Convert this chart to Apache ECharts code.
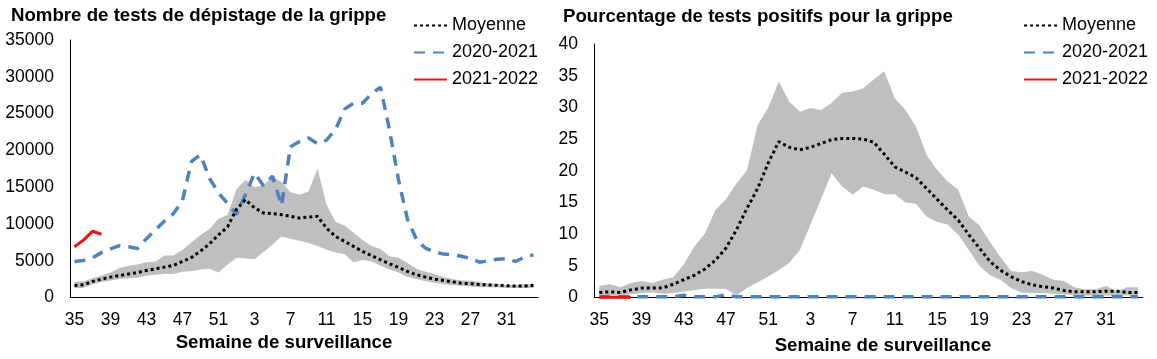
<!DOCTYPE html>
<html><head><meta charset="utf-8">
<script src="https://cdn.jsdelivr.net/npm/echarts@6/dist/echarts.min.js"></script>
<style>html,body{margin:0;padding:0;background:#fff}#c{width:1157px;height:359px}</style>
</head><body><div id="c"></div>
<script>
var weeks = [35,36,37,38,39,40,41,42,43,44,45,46,47,48,49,50,51,52,1,2,3,4,5,6,7,8,9,10,11,12,13,14,15,16,17,18,19,20,21,22,23,24,25,26,27,28,29,30,31,32,33,34].map(String);

// Nombre de tests
var testsMean = [1630,1720,2180,2500,2770,3000,3180,3400,3680,3900,4130,4360,4900,5450,6300,7300,8500,9600,12000,13300,12200,11490,11400,11260,11030,10800,10940,11030,9440,8300,7630,6950,6270,5680,5130,4590,4090,3540,3090,2770,2500,2320,2130,1950,1860,1770,1700,1650,1600,1560,1560,1650];
var testsMin = [1300,1300,1800,2100,2300,2500,2600,2700,3000,3100,3200,3200,3500,3600,3800,3900,3400,4500,5400,5300,5200,6200,7200,8300,8000,7700,7400,7000,6500,6100,5900,4800,5100,4900,4300,3800,3400,2800,2500,2200,2000,1800,1700,1600,1500,1400,1400,1400,1300,1300,1300,1300];
var testsMax = [2100,2200,2600,3000,3400,4000,4300,4500,4800,4900,5700,5700,6500,7500,8500,9300,10700,11200,14700,16000,15000,15300,16400,15700,14300,14000,14400,17500,12600,10300,9800,8800,7800,7000,6600,5600,5400,4700,3900,3500,3200,2800,2500,2300,2300,2100,1900,1800,1700,1700,1800,1800];
var tests2020 = [4900,5040,5400,6100,6600,7050,6900,6650,8000,9200,10400,11400,13200,18500,19400,16200,14200,12800,11300,14000,16900,15200,16500,12500,20500,21200,21700,20900,21400,22800,25600,26400,26400,27700,28600,22800,16000,10600,7900,6700,6200,5900,5800,5600,5300,4800,5000,5200,5300,4900,5500,5800];
var tests2021 = [6900,7800,9000,8600];

// Pourcentage positifs
var pctMean = [0.8,0.9,0.8,1.2,1.5,1.5,1.5,2.1,2.8,3.5,4.5,5.9,7.8,10.7,14.1,17.2,21.2,24.6,23.7,23.3,23.7,24.3,24.9,25.1,25.1,25.0,24.5,22.6,20.6,19.8,18.9,17.2,15.5,13.8,12.2,9.9,7.8,5.7,4.3,3.3,2.5,2.0,1.7,1.5,1.1,0.9,0.9,0.9,1.0,1.0,0.8,0.8];
var pctMin = [0.4,0.4,0.3,0.5,0.7,0.8,0.6,0.7,0.9,1.2,1.4,1.4,1.4,0.3,1.5,2.4,3.3,4.3,5.5,7.5,11.5,15.5,19.6,17.5,16.2,17.5,17.0,16.3,16.3,15.0,14.8,12.8,11.9,11.5,9.9,7.5,5.0,3.5,2.8,1.5,0.8,0.7,0.7,0.6,0.5,0.3,0.3,0.3,0.3,0.3,0.3,0.3];
var pctMax = [1.8,2.1,1.6,2.3,2.6,2.3,2.8,3.2,5.2,8.0,10.1,13.8,15.5,18.0,20.1,27.2,29.9,34.1,30.9,29.3,29.9,29.6,30.7,32.3,32.5,33.0,34.4,35.7,31.4,29.6,27.0,22.5,20.1,18.3,17.0,12.8,11.4,8.8,6.4,4.2,4.0,4.2,3.6,2.8,2.6,1.6,1.3,1.3,1.8,1.0,1.6,1.6];
var pct2020 = [0.1,0.1,0.1,0.1,0.1,0.1,0.1,0.1,0.35,0.1,0.1,0.1,0.45,0.1,0.1,0.1,0.1,0.1,0.1,0.1,0.1,0.1,0.1,0.1,0.1,0.1,0.1,0.1,0.1,0.1,0.1,0.1,0.1,0.1,0.1,0.1,0.1,0.1,0.1,0.1,0.1,0.1,0.1,0.1,0.1,0.1,0.1,0.1,0.1,0.1,0.1,0.1];
var pct2021 = [0.05,0.05,0.05,0.05];

var FONT = "'Liberation Sans', Arial, sans-serif";
var GRAY = '#BFBFBF', BLUE = '#4F81BD', RED = '#EE1111';

function diff(a, b) { return a.map(function (v, i) { return +(v - b[i]).toFixed(2); }); }

function panelSeries(idx, mean, mn, mx, s2020, s2021) {
  var st = 'band' + idx;
  return [
    { type: 'line', xAxisIndex: idx, yAxisIndex: idx, data: mn, stack: st, symbol: 'none', lineStyle: { opacity: 0 }, silent: true, z: 1 },
    { type: 'line', xAxisIndex: idx, yAxisIndex: idx, data: diff(mx, mn), stack: st, symbol: 'none', lineStyle: { opacity: 0 }, areaStyle: { color: GRAY, opacity: 1 }, silent: true, z: 1 },
    { name: 'Moyenne', type: 'line', xAxisIndex: idx, yAxisIndex: idx, data: mean, symbol: 'none', lineStyle: { color: '#000', width: 3, type: [3, 3], cap: 'butt' }, itemStyle: { color: '#000' }, z: 4 },
    { name: '2020-2021', type: 'line', xAxisIndex: idx, yAxisIndex: idx, data: s2020, symbol: 'none', lineStyle: { color: BLUE, width: 3.5, type: [11, 8] }, itemStyle: { color: BLUE }, z: 3 },
    { name: '2021-2022', type: 'line', xAxisIndex: idx, yAxisIndex: idx, data: s2021, symbol: 'none', lineStyle: { color: RED, width: 3 }, itemStyle: { color: RED }, z: 5 }
  ];
}

var axisLabel = { color: '#000', fontSize: 17.5, fontFamily: FONT };
function xAx(idx) {
  return { type: 'category', gridIndex: idx, data: weeks, boundaryGap: true,
    axisLine: { lineStyle: { color: '#000', width: 1 } }, axisTick: { show: false },
    axisLabel: Object.assign({ interval: 3, margin: 14 }, axisLabel) };
}
function yAx(idx, max, step) {
  return { type: 'value', gridIndex: idx, min: 0, max: max, interval: step,
    axisLine: { show: true, lineStyle: { color: '#000', width: 1 } }, axisTick: { show: false },
    splitLine: { show: false },
    axisLabel: Object.assign({ margin: 16, formatter: function (v) { return String(v); } }, axisLabel) };
}
function leg(left) {
  return { data: ['Moyenne', '2020-2021', '2021-2022'], orient: 'vertical', left: left, top: 11.5,
    itemWidth: 33, itemHeight: 18, itemGap: 9, selectedMode: false,
    itemStyle: { opacity: 0 },
    textStyle: { color: '#000', fontSize: 18, fontFamily: FONT } };
}

var TF = 'bold 18.67px ' + FONT;
var chart = echarts.init(document.getElementById('c'), null, { renderer: 'canvas' });
chart.setOption({
  animation: false,
  grid: [
    { left: 70, top: 40, width: 468, height: 257.5 },
    { left: 594, top: 44, width: 549, height: 253.5 }
  ],
  xAxis: [xAx(0), xAx(1)],
  yAxis: [yAx(0, 35000, 5000), yAx(1, 40, 5)],
  legend: [leg(408), leg(1018)],
  graphic: [
    { type: 'text', x: 11, y: 16, style: { text: 'Nombre de tests de dépistage de la grippe', font: TF, fill: '#000', textVerticalAlign: 'middle' } },
    { type: 'text', x: 563, y: 16.5, style: { text: 'Pourcentage de tests positifs pour la grippe', font: TF, fill: '#000', textVerticalAlign: 'middle' } },
    { type: 'text', x: 284, y: 343, style: { text: 'Semaine de surveillance', font: TF, fill: '#000', textAlign: 'center', textVerticalAlign: 'middle' } },
    { type: 'text', x: 883, y: 345.5, style: { text: 'Semaine de surveillance', font: TF, fill: '#000', textAlign: 'center', textVerticalAlign: 'middle' } }
  ],
  series: panelSeries(0, testsMean, testsMin, testsMax, tests2020, tests2021)
    .concat(panelSeries(1, pctMean, pctMin, pctMax, pct2020, pct2021))
});
</script></body></html>
